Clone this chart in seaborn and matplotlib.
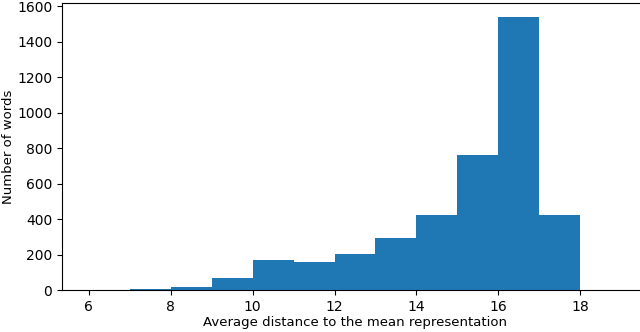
import numpy as np
import pandas as pd
import matplotlib
matplotlib.use("Agg")
import matplotlib.pyplot as plt
import seaborn as sns

bin_left = [6, 7, 8, 9, 10, 11, 12, 13, 14, 15, 16, 17, 18]
counts = [0, 4, 19, 68, 169, 160, 203, 293, 422, 760, 1538, 422, 0]

df = pd.DataFrame({"dist": [b + 0.5 for b in bin_left], "n": counts})

fig = plt.figure(figsize=(6.4, 3.32), dpi=100)
ax = fig.add_axes([62/640, 42/332, 586/640, 287/332])
sns.histplot(data=df, x="dist", weights="n", binwidth=1, binrange=(6, 19),
             color="#1f77b4", alpha=1, edgecolor="none", linewidth=0, ax=ax)
ax.set_xlim(5.35, 19.65)
ax.set_ylim(0, 1617)
ax.set_xticks([6, 8, 10, 12, 14, 16, 18])
ax.set_yticks([0, 200, 400, 600, 800, 1000, 1200, 1400, 1600])
ax.tick_params(labelsize=10)
ax.set_xlabel("Average distance to the mean representation", fontsize=9.5)
ax.set_ylabel("Number of words", fontsize=9.5)
ax.yaxis.set_label_coords(-47/586, 0.5)
ax.xaxis.set_label_coords(0.5, -26/287)
fig.savefig("out.png", dpi=100)
